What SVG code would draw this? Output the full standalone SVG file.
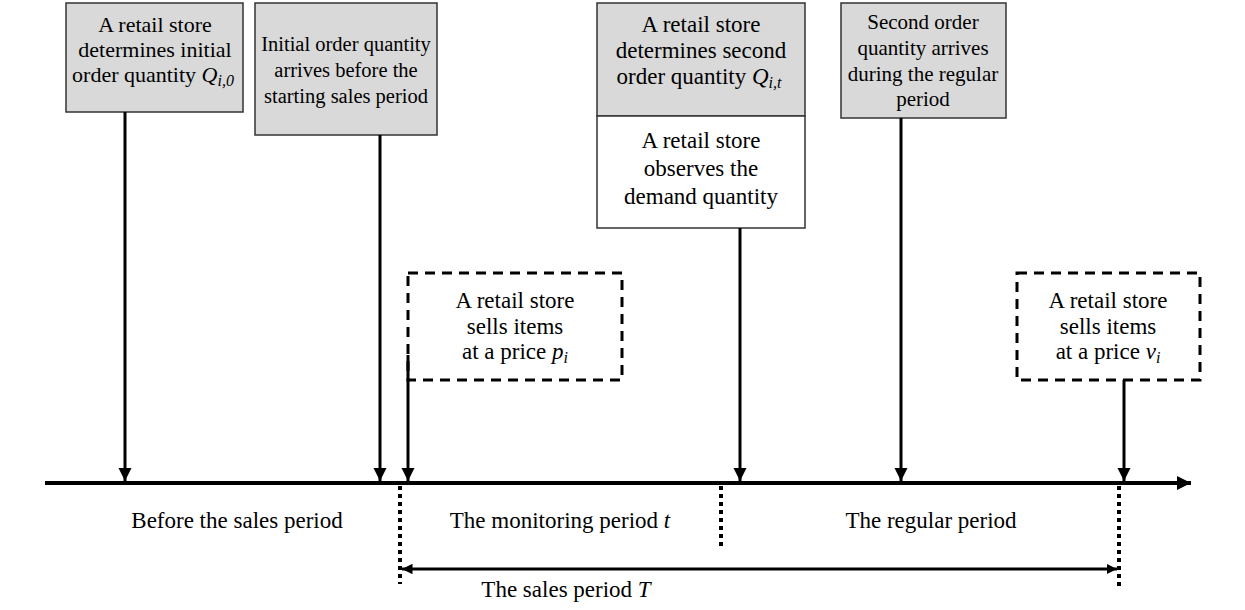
<svg xmlns="http://www.w3.org/2000/svg" width="1245" height="610" viewBox="0 0 1245 610" font-family="Liberation Serif, Times New Roman, serif">
<defs>
<style>
text{font-family:"Liberation Serif","Times New Roman",serif;font-size:22px;fill:#000;text-anchor:middle}
.m{font-style:italic}
.s{font-size:16px;font-style:italic}
.box{fill:#d9d9d9;stroke:#333;stroke-width:1.5}
.wbox{fill:#fff;stroke:#333;stroke-width:1.5}
.dbox{fill:none;stroke:#000;stroke-width:3;stroke-dasharray:10 7}
.arr{stroke:#000;stroke-width:3;fill:none}
.dot{stroke:#000;stroke-width:4;stroke-dasharray:4 4;fill:none}
.lbl{font-size:23px}
</style>
<marker id="ah" viewBox="0 0 10 10" refX="10" refY="5" markerWidth="4.4" markerHeight="4.6" markerUnits="strokeWidth" orient="auto"><path d="M0,0 L10,5 L0,10 z" fill="#000"/></marker>
<marker id="ah2" viewBox="0 0 10 10" refX="10" refY="5" markerWidth="3.5" markerHeight="3.5" markerUnits="strokeWidth" orient="auto-start-reverse"><path d="M0,0 L10,5 L0,10 z" fill="#000"/></marker>
</defs>
<g id="n1">
<rect class="box" x="66" y="3" width="177" height="109"/>
<text x="155" y="32">A  retail store</text>
<text x="155" y="57">determines initial</text>
<text x="153" y="82">order quantity <tspan class="m">Q</tspan><tspan class="s" dy="4">i,0</tspan></text>
</g>
<g id="n2">
<rect class="box" x="255" y="3" width="182" height="132"/>
<text x="346" y="51" style="font-size:20.5px">Initial order quantity</text>
<text x="346" y="77" style="font-size:20.5px">arrives before the</text>
<text x="346" y="103" style="font-size:20.5px">starting sales period</text>
</g>
<g id="n3">
<rect class="box" x="597" y="3" width="208" height="113"/>
<text x="701" y="32" style="font-size:23px">A  retail store</text>
<text x="701" y="58" style="font-size:23px">determines second</text>
<text x="699" y="84" style="font-size:23px">order quantity <tspan class="m">Q</tspan><tspan class="s" dy="4">i,t</tspan></text>
</g>
<g id="n4">
<rect class="wbox" x="597" y="116" width="208" height="112"/>
<text x="701" y="148" style="font-size:23px">A  retail store</text>
<text x="701" y="176" style="font-size:23px">observes the</text>
<text x="701" y="204" style="font-size:23px">demand quantity</text>
</g>
<g id="n5">
<rect class="box" x="841" y="3" width="165" height="115"/>
<text x="923" y="29" style="font-size:21px">Second order</text>
<text x="923" y="55" style="font-size:21px">quantity arrives</text>
<text x="923" y="81" style="font-size:21px">during the regular</text>
<text x="923" y="106" style="font-size:21px">period</text>
</g>
<g id="n6">
<rect class="dbox" x="408" y="273" width="214" height="107"/>
<text x="515" y="308" style="font-size:23px">A  retail store</text>
<text x="515" y="334" style="font-size:23px">sells items</text>
<text x="515" y="359" style="font-size:23px">at a price  <tspan class="m">p</tspan><tspan class="s" dy="4">i</tspan></text>
</g>
<g id="n7">
<rect class="dbox" x="1017" y="273" width="183" height="107"/>
<text x="1108" y="308" style="font-size:23px">A  retail store</text>
<text x="1108" y="334" style="font-size:23px">sells items</text>
<text x="1108" y="359" style="font-size:23px">at a price <tspan class="m">v</tspan><tspan class="s" dy="4">i</tspan></text>
</g>
<g id="connectors">
<line class="arr" x1="45" y1="483" x2="1191" y2="483" style="stroke-width:4" marker-end="url(#ah2)"/>
<line class="arr" x1="125" y1="112" x2="125" y2="481" marker-end="url(#ah)"/>
<line class="arr" x1="380" y1="135" x2="380" y2="481" marker-end="url(#ah)"/>
<line class="arr" x1="408" y1="355" x2="408" y2="481" marker-end="url(#ah)"/>
<line class="arr" x1="740" y1="228" x2="740" y2="481" marker-end="url(#ah)"/>
<line class="arr" x1="901" y1="118" x2="901" y2="481" marker-end="url(#ah)"/>
<line class="arr" x1="1124" y1="380" x2="1124" y2="481" marker-end="url(#ah)"/>
<line class="dot" x1="400" y1="486" x2="400" y2="584"/>
<line class="dot" x1="721" y1="486" x2="721" y2="550"/>
<line class="dot" x1="1119" y1="486" x2="1119" y2="586"/>
<line class="arr" x1="402" y1="569" x2="1117" y2="569" marker-start="url(#ah2)" marker-end="url(#ah2)"/>
</g>
<g id="labels">
<text class="lbl" x="237" y="528">Before the sales period</text>
<text class="lbl" x="560" y="528">The monitoring period  <tspan class="m">t</tspan></text>
<text class="lbl" x="931" y="528">The regular period</text>
<text class="lbl" x="566" y="597">The sales period <tspan class="m">T</tspan></text>
</g>
</svg>
